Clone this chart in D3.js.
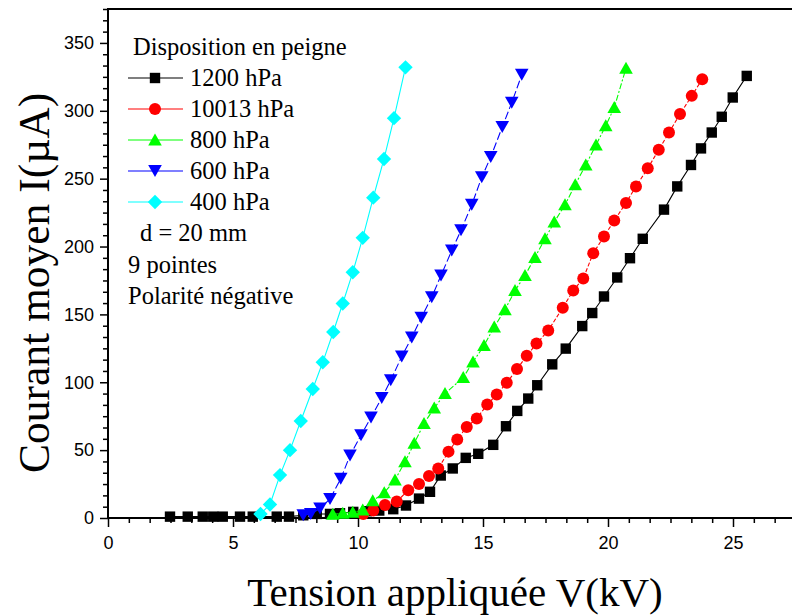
<!DOCTYPE html>
<html><head><meta charset="utf-8">
<script src="https://cdn.jsdelivr.net/npm/d3@7"></script>
<style>
html,body{margin:0;padding:0;background:#fff;}
svg{display:block;}
</style>
</head><body>
<svg id="chart" width="792" height="615"></svg>
<script>
// ---------- data ----------
const seriesNames = ["1200 hPa", "10013 hPa", "800 hPa", "600 hPa", "400 hPa"];
const seriesColors = ["#000000", "#ff0000", "#00ff00", "#0000ff", "#00ffff"];

const x1200 = [2.48, 3.19, 3.79, 4.21, 4.59, 5.28, 5.79, 6.75, 7.24, 7.81, 8.35, 8.88, 9.28, 9.81, 10.35, 10.85, 11.41, 11.92, 12.44, 12.88, 13.31, 13.79, 14.31, 14.81, 15.41, 15.92, 16.37, 16.81, 17.17, 17.77, 18.31, 18.97, 19.37, 19.84, 20.37, 20.88, 21.39, 22.24, 22.77, 23.32, 23.72, 24.15, 24.55, 24.99, 25.55];
const y1200 = [1, 1, 1, 1, 1, 1, 1, 1, 1, 2, 3, 3, 3.5, 4.5, 5, 5.5, 6.5, 9.2, 14.3, 19.3, 31.3, 36.5, 44.3, 47.3, 53.9, 67.6, 78.9, 88, 97.8, 113.2, 124.8, 141.4, 151, 163.2, 177.2, 191.4, 205.7, 227.2, 244.3, 260.1, 272.3, 284, 295.6, 309.8, 325.7];

const x10013 = [10.21, 10.61, 11.08, 11.55, 12.01, 12.44, 12.84, 13.21, 13.62, 13.97, 14.35, 14.75, 15.17, 15.55, 15.95, 16.36, 16.75, 17.14, 17.61, 18.19, 18.61, 19.01, 19.41, 19.84, 20.25, 20.72, 21.12, 21.59, 22.03, 22.44, 22.88, 23.35, 23.77];
const y10013 = [2.9, 5.5, 9.6, 12.1, 20.4, 25, 30.9, 36.4, 48.9, 57.9, 67.1, 73.3, 83.6, 91, 99.6, 109.7, 119.5, 128.5, 138.2, 154.9, 167.6, 176.5, 195.1, 207.4, 219.1, 232.1, 244.3, 257.6, 271.3, 284, 297.6, 311, 323.3];

const x800 = [8.99, 9.39, 9.79, 10.19, 10.59, 11.05, 11.48, 11.88, 12.25, 12.64, 13.05, 13.48, 14.21, 14.6, 15.04, 15.45, 15.88, 16.28, 16.68, 17.08, 17.48, 17.85, 18.28, 18.69, 19.11, 19.52, 19.91, 20.25, 20.72];
const y800 = [2.7, 3.5, 4.2, 5.9, 12.7, 18.6, 28, 41.4, 55, 69.6, 81, 91.7, 103.5, 115, 127, 140.7, 153.5, 167.6, 178.7, 192, 205.7, 218, 230.7, 245.6, 260, 274.8, 289, 302.4, 331.4];

const x600 = [7.81, 8.11, 8.48, 8.88, 9.31, 9.68, 10.12, 10.52, 10.95, 11.31, 11.75, 12.15, 12.53, 12.95, 13.32, 13.75, 14.12, 14.55, 14.95, 15.31, 15.77, 16.15, 16.55];
const y600 = [2, 3, 7, 14, 29, 46, 61, 74, 88.5, 101.5, 119, 133, 147.6, 162.7, 178.7, 197, 212, 230.7, 251, 266, 288, 306, 326.5];

const x400 = [6.1, 6.48, 6.88, 7.28, 7.71, 8.19, 8.59, 9.01, 9.39, 9.79, 10.19, 10.61, 11.04, 11.44, 11.9];
const y400 = [3, 10, 31.6, 50, 71.5, 95, 114.7, 137, 158, 181, 206.4, 236, 264.5, 294.6, 332];

const xTicks = [0, 5, 10, 15, 20, 25];
const yTicks = [0, 50, 100, 150, 200, 250, 300, 350];

const legendNotes = ["d = 20 mm", "9 pointes", "Polarité négative"];
const legendTitle = "Disposition en peigne";
const xTitle = "Tension appliquée V(kV)";
const yTitle = "Courant moyen I(µA)";

// ---------- build ----------
const series = [
  {name: seriesNames[0], color: seriesColors[0], xs: x1200, ys: y1200, shape: "square", dash: null},
  {name: seriesNames[1], color: seriesColors[1], xs: x10013, ys: y10013, shape: "circle", dash: "4,2"},
  {name: seriesNames[2], color: seriesColors[2], xs: x800, ys: y800, shape: "up", dash: "6,2,2,2"},
  {name: seriesNames[3], color: seriesColors[3], xs: x600, ys: y600, shape: "down", dash: "8,3"},
  {name: seriesNames[4], color: seriesColors[4], xs: x400, ys: y400, shape: "diamond", dash: null}
];

const svg = d3.select("#chart");
const plotLeft = 108, plotBottom = 518, plotTop = 9;
const x = d3.scaleLinear().domain([0, 28]).range([plotLeft, plotLeft + 28 * 25]);
const y = d3.scaleLinear().domain([0, 375]).range([plotBottom, plotTop]);

function shapePath(shape) {
  switch (shape) {
    case "square": return "M-5.2,-5.2H5.2V5.2H-5.2Z";
    case "circle": return "M6,0A6,6 0 1,1 -6,0A6,6 0 1,1 6,0Z";
    case "up": return "M0,-6.5L6.8,5.5L-6.8,5.5Z";
    case "down": return "M0,6L6.8,-6L-6.8,-6Z";
    case "diamond": return "M0,-7.2L7.2,0L0,7.2L-7.2,0Z";
  }
}

// axes
const minorX = d3.range(0, 28.01, 5 / 6).filter(v => Math.abs(v / 5 - Math.round(v / 5)) > 1e-6);
const minorY = d3.range(0, 375.01, 50 / 6).filter(v => Math.abs(v / 50 - Math.round(v / 50)) > 1e-6);

const axisFont = "'Liberation Sans', Arial, sans-serif";

const gx = svg.append("g").attr("transform", `translate(0,${plotBottom})`)
  .call(d3.axisBottom(x).tickValues(xTicks).tickSize(9).tickPadding(9).tickFormat(d3.format("d")));
gx.selectAll("text").attr("font-family", axisFont).attr("font-size", 18).attr("fill", "#000");
gx.selectAll(".tick line").attr("stroke-width", 1.5);
gx.select(".domain").remove();
svg.append("g").attr("transform", `translate(0,${plotBottom})`)
  .call(d3.axisBottom(x).tickValues(minorX).tickSize(5).tickFormat(""))
  .call(g => g.select(".domain").remove())
  .selectAll(".tick line").attr("stroke-width", 1.5);

const gy = svg.append("g").attr("transform", `translate(${plotLeft},0)`)
  .call(d3.axisLeft(y).tickValues(yTicks).tickSize(8).tickPadding(6).tickFormat(d3.format("d")));
gy.selectAll("text").attr("font-family", axisFont).attr("font-size", 18).attr("fill", "#000");
gy.selectAll(".tick line").attr("stroke-width", 1.5);
gy.select(".domain").remove();
svg.append("g").attr("transform", `translate(${plotLeft},0)`)
  .call(d3.axisLeft(y).tickValues(minorY).tickSize(5).tickFormat(""))
  .call(g => g.select(".domain").remove())
  .selectAll(".tick line").attr("stroke-width", 1.5);

// frame lines
svg.append("line").attr("x1", plotLeft).attr("x2", 792).attr("y1", plotBottom).attr("y2", plotBottom).attr("stroke", "#000").attr("stroke-width", 2);
svg.append("line").attr("x1", plotLeft).attr("x2", 792).attr("y1", plotTop).attr("y2", plotTop).attr("stroke", "#000").attr("stroke-width", 2);
svg.append("line").attr("x1", plotLeft).attr("x2", plotLeft).attr("y1", plotTop - 1).attr("y2", plotBottom + 1).attr("stroke", "#000").attr("stroke-width", 2);

// series
const line = d3.line().x(d => x(d[0])).y(d => y(d[1]));
series.forEach(s => {
  const pts = s.xs.map((v, i) => [v, s.ys[i]]);
  svg.append("path").datum(pts).attr("d", line).attr("fill", "none")
    .attr("stroke", s.color).attr("stroke-width", 1.1)
    .attr("stroke-dasharray", s.dash);
  svg.append("g").selectAll("path").data(pts).join("path")
    .attr("transform", d => `translate(${x(d[0])},${y(d[1])})`)
    .attr("d", shapePath(s.shape)).attr("fill", s.color);
});

// legend
const serif = "'Liberation Serif', 'Times New Roman', serif";
const lgSize = 24.5;
svg.append("text").attr("x", 133).attr("y", 55).attr("font-family", serif).attr("font-size", lgSize).text(legendTitle);
series.forEach((s, i) => {
  const cy = 78 + i * 31;
  svg.append("line").attr("x1", 128).attr("x2", 183).attr("y1", cy).attr("y2", cy).attr("stroke", s.color).attr("stroke-width", 1.1);
  svg.append("path").attr("transform", `translate(155,${cy})`).attr("d", shapePath(s.shape)).attr("fill", s.color);
  svg.append("text").attr("x", 190).attr("y", cy + 8).attr("font-family", serif).attr("font-size", lgSize).text(s.name);
});
const noteX = [140, 128, 128];
legendNotes.forEach((t, i) => {
  svg.append("text").attr("x", noteX[i]).attr("y", 241 + i * 31.5).attr("font-family", serif).attr("font-size", lgSize).text(t);
});

// axis titles
svg.append("text").attr("x", 455).attr("y", 606).attr("text-anchor", "middle")
  .attr("font-family", serif).attr("font-size", 41).text(xTitle);
svg.append("text").attr("transform", "translate(49,283) rotate(-90)").attr("text-anchor", "middle")
  .attr("font-family", serif).attr("font-size", 43.5).text(yTitle);
</script>
</body></html>
